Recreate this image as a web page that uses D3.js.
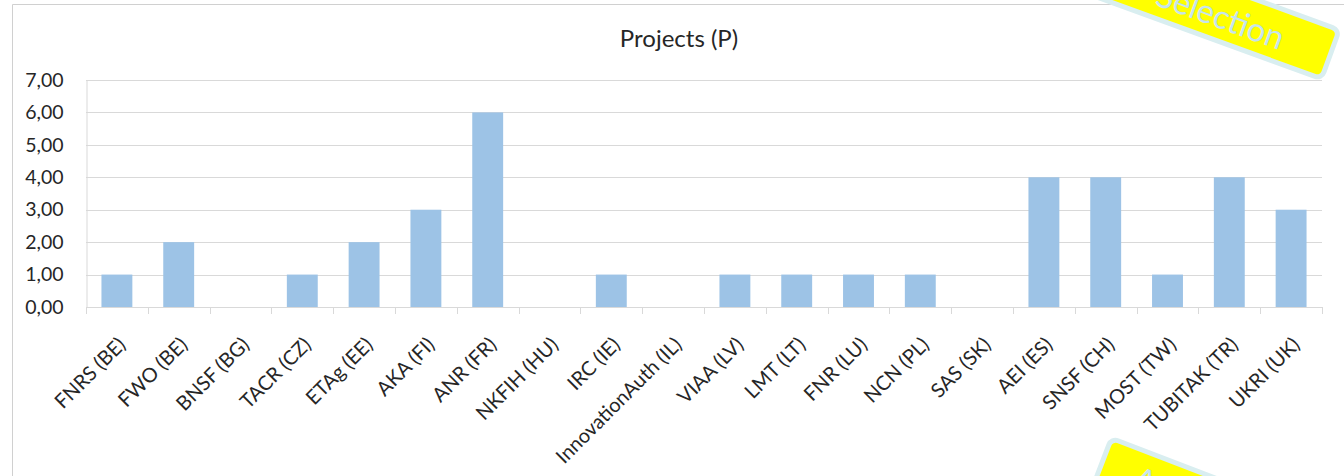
<!DOCTYPE html>
<html>
<head>
<meta charset="utf-8">
<script src="https://cdn.jsdelivr.net/npm/d3@7"></script>
<style>
  html, body { margin: 0; padding: 0; background: #fff; }
  svg { display: block; }
  text { font-family: Lato, "Open Sans", sans-serif; fill: #262626; }
</style>
</head>
<body>
<svg id="chart" width="1344" height="476"></svg>
<script>
const categories = ["FNRS (BE)", "FWO (BE)", "BNSF (BG)", "TACR (CZ)", "ETAg (EE)", "AKA (FI)", "ANR (FR)", "NKFIH (HU)", "IRC (IE)", "InnovationAuth (IL)", "VIAA (LV)", "LMT (LT)", "FNR (LU)", "NCN (PL)", "SAS (SK)", "AEI (ES)", "SNSF (CH)", "MOST (TW)", "TUBITAK (TR)", "UKRI (UK)"];
const projects = [1, 2, 0, 1, 2, 3, 6, 0, 1, 0, 1, 1, 1, 1, 0, 4, 4, 1, 4, 3];
const yTicks = [0, 1, 2, 3, 4, 5, 6, 7];
const title = "Projects (P)";

(function () {
const svg = d3.select("#chart");
const pLeft = 86, pRight = 1322, pTop = 80, pBottom = 307;

// chart frame
svg.append("path").attr("d", `M12.5,476 V4.5 H1344`).attr("fill", "none").attr("stroke", "#d0d0d0").attr("stroke-width", 1);

const x = d3.scaleBand().domain(categories).range([pLeft, pRight]).paddingInner(0.5).paddingOuter(0.25);
const y = d3.scaleLinear().domain([0, 7]).range([pBottom, pTop]);
const fmt = v => d3.format(".2f")(v).replace(".", ",");

// gridlines
svg.append("g").selectAll("line").data(yTicks.filter(d => d > 0)).join("line")
  .attr("x1", pLeft).attr("x2", pRight)
  .attr("y1", d => Math.round(y(d)) + 0.5).attr("y2", d => Math.round(y(d)) + 0.5)
  .attr("stroke", "#d9d9d9").attr("stroke-width", 1);

// y axis
const yAxis = svg.append("g").attr("transform", `translate(${pLeft + 0.5},0)`)
  .call(d3.axisLeft(y).tickValues(yTicks).tickFormat(fmt).tickSize(0).tickPadding(23));
yAxis.select(".domain").attr("stroke", "#d9d9d9");
yAxis.selectAll("text").attr("font-size", 19.5).attr("fill", "#262626").style("font-family", "Lato, 'Open Sans', sans-serif");

// bars
svg.append("g").selectAll("rect").data(categories).join("rect")
  .attr("x", d => x(d))
  .attr("width", x.bandwidth())
  .attr("y", (d, i) => y(projects[i]))
  .attr("height", (d, i) => y(0) - y(projects[i]))
  .attr("fill", "#9dc3e6");

// x axis line and ticks at band boundaries
const bounds = d3.range(categories.length + 1).map(i => pLeft + i * (pRight - pLeft) / categories.length);
svg.append("line").attr("x1", pLeft).attr("x2", pRight + 0.5)
  .attr("y1", pBottom + 0.5).attr("y2", pBottom + 0.5).attr("stroke", "#d9d9d9");
svg.append("g").selectAll("line").data(bounds).join("line")
  .attr("x1", d => Math.round(d) + 0.5).attr("x2", d => Math.round(d) + 0.5)
  .attr("y1", pBottom).attr("y2", pBottom + 7).attr("stroke", "#d9d9d9");

// category labels
svg.append("g").selectAll("text").data(categories).join("text")
  .attr("transform", d => `translate(${x(d) + x.bandwidth() / 2 + 10},${pBottom + 39}) rotate(-45)`)
  .attr("text-anchor", "end")
  .attr("font-size", 20)
  .text(d => d);

// title
svg.append("text").attr("x", 679).attr("y", 47).attr("text-anchor", "middle")
  .attr("font-size", 24).text(title);

// stickers (overlay decorations)
const s1 = svg.append("g").attr("transform", "translate(1323,82) rotate(20)");
s1.append("rect").attr("x", -420).attr("y", -54.5).attr("width", 417.5).attr("height", 52)
  .attr("rx", 7).attr("fill", "#ffff00").attr("stroke", "#d9eef0").attr("stroke-width", 5);
s1.append("text").attr("x", -52).attr("y", -15).attr("text-anchor", "end")
  .attr("font-size", 33).style("fill", "#c6e4ec").text("Selection");

const s2 = svg.append("g").attr("transform", "translate(1110,435) rotate(21)");
s2.append("rect").attr("x", 2.5).attr("y", 2.5).attr("width", 320).attr("height", 100)
  .attr("rx", 7).attr("fill", "#ffff00").attr("stroke", "#d9eef0").attr("stroke-width", 5);
s2.append("text").attr("x", 38).attr("y", 42).attr("font-size", 33).style("fill", "#c6e4ec").text("A");
})();
</script>
</body>
</html>
